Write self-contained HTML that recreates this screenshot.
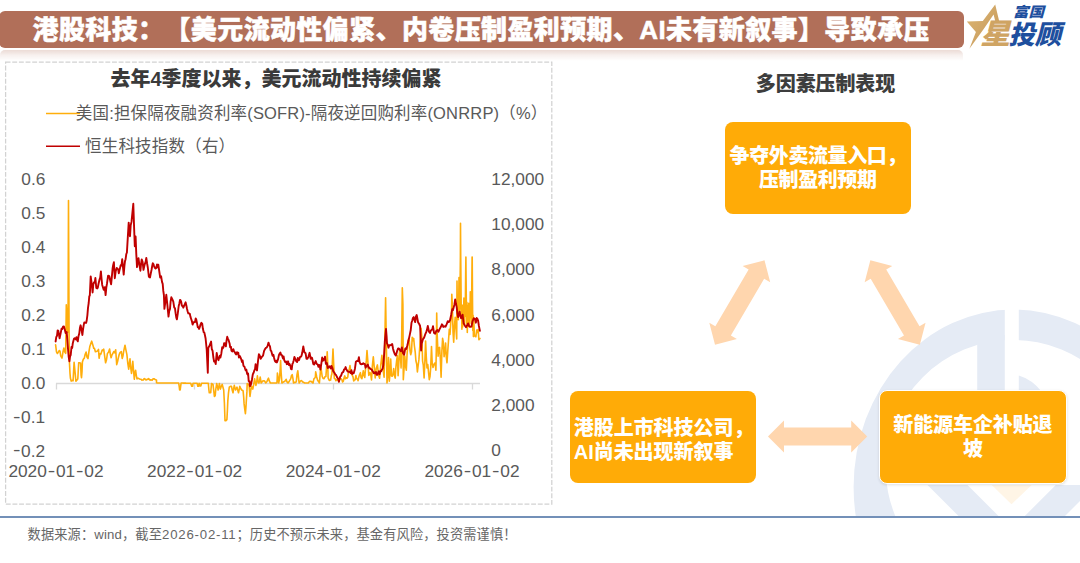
<!DOCTYPE html>
<html lang="zh-CN"><head><meta charset="utf-8"><title>港股科技</title>
<style>
html,body{margin:0;padding:0;background:#fff;}
body{width:1080px;height:563px;position:relative;overflow:hidden;font-family:"Liberation Sans","Noto Sans CJK SC",sans-serif;}
.abs{position:absolute;}
.hv{font-family:"Liberation Sans","Noto Sans CJK SC",sans-serif;font-weight:900;}
#bar{left:-1px;top:11px;width:965px;height:37px;background:#B16F59;border-radius:6px;}
#refl{left:0;top:49.5px;width:963px;height:11px;border-radius:5px 5px 0 0;background:linear-gradient(to bottom,rgba(177,111,89,.25),rgba(177,111,89,.11) 45%,rgba(177,111,89,0));filter:blur(.6px);}
#title{left:32.6px;top:9.5px;height:40px;line-height:40px;font-size:26px;letter-spacing:0.38px;color:#fff;-webkit-text-stroke:0.5px #fff;white-space:nowrap;text-spacing-trim:space-all;}
#ctitle{left:0;top:65.8px;width:552px;text-align:center;font-size:20px;line-height:26px;color:#3a3a3a;white-space:nowrap;letter-spacing:0}
.leg{font-size:16.5px;color:#595959;white-space:nowrap;line-height:22px;}
#rtitle{left:725.5px;top:71px;width:200px;text-align:center;font-size:20px;line-height:26px;color:#3d3d3d;letter-spacing:-.1px;white-space:nowrap}
.box{background:#FFAB07;border-radius:8px;color:#fff;font-size:20px;line-height:24px;text-spacing-trim:space-all;padding-top:5px;text-align:center;display:flex;align-items:center;justify-content:center;box-sizing:border-box;white-space:nowrap;letter-spacing:-.6px}
#fline{left:0;top:516px;width:1080px;height:2px;background:#7390B8;}
#foot{left:27.6px;top:526.3px;font-size:13.2px;line-height:18px;color:#666;white-space:nowrap;text-spacing-trim:space-all;letter-spacing:.15px}
#foot span{letter-spacing:.8px}
</style></head><body>
<svg class="abs" style="left:0;top:0" width="1080" height="563" viewBox="0 0 1080 563">
<g id="wm"><clipPath id="wmclip"><rect x="840" y="290" width="240" height="226.5"/></clipPath>
<g clip-path="url(#wmclip)" fill="#E5EBF5">
<path fill-rule="evenodd" d="M853.6,487 A160.1,177.4 0 1 1 1173.8,487 A160.1,177.4 0 1 1 853.6,487 Z M885.6,467.2 A127.2,127.2 0 1 0 1140,467.2 A127.2,127.2 0 1 0 885.6,467.2 Z"/>
<rect x="1004.8" y="300" width="14" height="45" fill="#fff"/>
<rect x="977.2" y="335" width="27.6" height="70"/>
<path d="M1018.8,375.6 Q1032,379.5 1042,392 L1042,400 L1018.8,400 Z"/>
<polygon points="927.5,485 967.5,485 1002.5,520 962.5,520"/>
<polygon points="1055.8,485 1096,485 1061,520 1020.8,520"/>
<polygon points="991.7,485 1031.7,485 1011.5,504.3" fill="#FFF5E6"/>
</g></g>
<rect x="5.6" y="62" width="546.2" height="442.2" fill="none" stroke="#D2D2D2" stroke-width="1.25" stroke-dasharray="4.9 1.75"/>
<g stroke="#D9D9D9" stroke-width="1.3" fill="none"><path d="M56,383.5 H480 M56.5,383.5 v6 M194.5,383.5 v6 M333.5,383.5 v6 M472.5,383.5 v6"/></g>
<polyline points="55.6,344.8 56.5,351.9 57.4,353.5 58.3,352.1 59.3,350.5 60.0,351.1 60.7,355.8 62.0,358.1 63.0,351.8 63.9,348.0 64.8,352.0 65.7,353.3 66.3,304.7 67.0,320.7 67.6,332.5 68.1,306.5 68.5,200.5 69.1,338.8 69.4,361.8 70.0,373.2 70.4,378.0 71.2,381.1 71.9,380.6 73.1,380.8 73.7,369.4 74.1,362.3 75.0,371.6 75.9,381.2 76.9,380.1 77.8,378.9 78.3,369.9 78.7,362.9 79.6,362.7 80.6,363.2 81.1,375.1 81.5,377.7 82.0,371.8 82.4,361.9 83.3,359.2 84.3,358.1 85.2,354.3 86.1,352.1 87.0,357.0 88.0,358.6 88.9,351.8 89.8,346.6 90.7,343.9 91.7,341.2 93.0,345.4 93.7,348.3 94.4,348.2 95.4,351.7 96.3,351.5 97.4,351.1 98.5,349.4 99.1,358.3 100.0,353.8 100.9,354.1 102.2,350.0 103.0,350.4 103.7,349.2 104.6,355.6 105.6,362.8 106.5,359.8 107.4,353.5 108.5,352.3 109.6,349.1 110.4,354.6 111.1,357.7 111.8,355.4 112.6,353.8 113.9,351.5 114.8,352.8 115.7,349.8 116.7,364.6 117.6,361.5 118.5,357.2 119.2,354.5 120.0,352.6 121.3,351.5 122.2,358.5 123.0,355.7 123.7,351.1 125.0,345.2 125.9,349.8 126.9,354.7 127.8,363.3 128.7,369.2 129.3,363.4 130.0,358.8 130.7,367.5 131.5,373.5 132.2,367.7 132.8,361.2 133.5,370.3 134.3,379.3 135.0,372.6 135.6,370.2 136.3,375.3 137.0,378.9 138.0,378.1 138.9,378.6 139.6,379.0 140.4,379.2 141.1,379.3 141.9,380.1 142.6,380.0 143.3,380.0 144.1,378.6 144.8,378.7 145.6,379.7 146.3,380.0 147.0,379.4 147.8,379.5 148.5,378.6 149.2,379.2 149.9,380.1 150.7,379.9 151.4,380.0 152.1,380.2 152.9,379.0 153.6,378.8 154.3,378.8 155.0,379.4 155.8,379.7 156.5,380.1 156.5,382.8 157.4,383.0 158.1,383.0 158.8,383.0 159.5,383.0 160.2,383.0 160.9,383.0 161.7,383.0 162.4,383.0 163.1,383.0 163.8,383.0 164.5,383.0 165.2,383.0 165.9,383.0 166.6,383.0 167.3,383.0 168.1,383.0 168.8,383.0 169.5,383.0 170.2,383.0 170.9,383.0 171.6,383.0 172.3,383.0 173.0,383.0 173.7,383.0 174.4,383.0 175.1,383.0 175.9,383.0 176.6,383.0 177.3,383.0 178.0,383.0 178.7,383.0 179.3,387.2 179.6,390.0 180.2,390.0 181.1,383.0 181.8,383.0 182.6,383.0 183.3,383.1 184.1,383.1 184.8,383.1 185.5,383.1 186.3,383.2 187.0,383.2 187.7,383.2 188.5,383.2 189.2,383.3 190.0,383.3 190.7,383.3 191.7,386.3 192.6,386.3 193.0,383.3 193.8,383.3 194.7,383.3 195.5,383.3 196.4,383.3 197.2,383.3 197.8,386.3 198.5,386.3 199.1,383.3 200.0,385.9 200.9,385.9 201.5,383.3 202.3,383.3 203.0,383.3 203.8,383.3 204.5,383.3 205.3,383.3 206.0,383.3 206.8,383.3 207.5,383.3 208.3,383.3 208.9,390.0 209.3,392.8 210.7,392.8 211.5,383.5 212.2,383.9 213.0,384.4 213.9,391.9 214.4,396.5 215.2,395.6 215.7,390.0 216.7,383.5 217.6,387.2 218.1,390.0 218.9,386.3 219.4,383.5 220.0,387.2 220.4,389.1 221.3,386.3 222.2,384.4 223.1,387.8 223.7,390.0 224.4,403.0 225.0,420.6 225.9,420.6 226.9,419.6 227.4,410.4 227.8,401.1 228.5,392.8 229.3,387.2 230.4,386.3 231.5,386.3 232.2,390.0 233.0,392.8 233.7,388.5 234.3,385.4 235.0,388.1 235.6,390.0 236.3,388.5 237.0,387.2 237.8,390.4 238.5,392.8 239.3,389.1 239.8,386.3 240.7,388.5 241.7,390.0 242.6,390.4 243.1,390.9 243.7,397.4 244.1,403.9 244.8,409.4 245.4,413.7 245.9,407.6 246.3,401.1 246.9,391.9 247.2,383.5 248.1,384.4 249.1,385.4 249.6,391.9 250.0,396.5 250.7,390.9 251.5,386.3 252.2,387.8 252.8,389.1 253.7,384.4 254.6,378.9 255.4,383.0 255.9,385.4 256.7,382.2 257.4,375.9 258.1,381.5 258.9,383.0 259.6,380.5 260.2,377.1 260.7,380.2 261.1,383.0 261.9,382.1 262.6,381.0 263.9,380.8 264.8,381.3 265.7,383.0 267.0,381.4 267.8,379.5 268.5,378.2 269.4,381.2 270.4,383.0 271.2,383.0 272.0,383.0 272.9,383.0 273.7,383.0 274.5,383.0 275.3,383.0 276.1,383.0 276.9,383.0 277.2,378.8 277.4,373.1 278.1,377.5 278.7,383.0 279.3,380.2 279.6,377.6 280.2,368.7 280.6,360.6 281.1,372.1 281.9,383.0 283.0,382.2 284.3,381.5 285.2,380.9 286.1,379.3 287.0,381.9 288.0,383.0 289.3,381.2 290.7,378.9 291.5,375.5 292.2,374.7 293.0,378.8 293.5,383.0 294.8,382.2 295.6,382.4 296.3,381.7 297.0,374.6 297.8,370.7 298.5,377.3 299.1,383.0 300.4,381.1 301.1,380.6 301.9,380.9 302.6,382.0 303.3,382.1 304.6,383.0 305.6,383.0 306.5,383.0 307.4,383.0 308.3,383.0 309.3,381.6 310.2,381.3 311.5,381.6 312.2,382.4 313.0,383.0 313.9,378.9 314.8,378.0 315.4,376.8 315.7,371.9 316.7,377.0 317.6,380.2 318.5,381.4 319.4,383.0 320.2,373.9 320.7,366.7 321.5,371.5 322.2,376.5 323.1,378.5 324.1,378.7 325.0,376.7 325.9,376.4 326.7,365.6 327.2,351.9 327.8,365.2 328.1,377.8 329.3,380.4 330.6,380.0 331.3,375.8 331.9,373.8 332.4,361.8 333.0,349.1 333.7,364.6 334.3,378.3 335.1,378.7 335.9,380.7 336.6,379.9 337.4,379.7 338.1,380.0 338.9,381.6 339.6,378.6 340.4,378.7 341.1,378.7 341.9,379.7 342.6,382.0 343.3,381.3 344.1,377.7 344.8,375.9 345.5,378.8 346.3,377.9 347.0,378.2 347.8,377.0 348.5,370.8 349.2,369.7 350.0,365.6 350.8,371.4 351.5,374.0 352.2,375.1 353.0,376.8 353.7,380.9 354.4,380.0 355.2,379.7 355.9,375.5 356.6,378.7 357.4,379.0 358.1,380.7 358.9,376.7 359.6,374.5 360.4,372.7 361.1,377.8 361.9,378.6 362.6,374.8 363.3,370.7 364.1,375.7 364.8,377.4 365.6,367.6 366.3,360.9 367.0,350.6 367.9,362.1 368.8,375.4 370.0,372.6 370.8,374.4 371.5,380.0 372.4,365.6 373.3,356.8 374.1,365.5 375.2,378.0 376.2,368.6 377.4,364.9 378.6,375.3 379.6,378.2 380.7,365.6 381.9,355.3 383.0,369.2 384.1,377.2 384.8,343.2 385.6,297.8 386.3,341.9 387.0,382.9 387.8,375.1 388.5,357.6 389.3,381.3 390.0,373.7 390.7,359.1 391.5,376.0 392.2,376.2 393.0,374.3 393.7,368.6 394.4,375.4 395.2,378.1 395.9,367.3 396.7,360.1 397.4,355.6 398.1,375.7 398.9,361.7 399.6,351.3 400.4,354.5 401.1,367.9 401.7,336.9 402.3,287.7 402.9,304.1 403.3,379.8 404.1,367.7 404.8,356.1 405.6,366.4 406.3,370.2 407.0,355.6 407.8,343.7 408.5,338.9 409.3,340.9 410.0,350.5 410.7,354.7 411.5,351.8 412.2,337.3 413.0,340.8 413.7,338.4 414.4,346.0 415.2,351.8 415.9,360.7 416.7,364.0 417.4,371.9 418.1,366.0 418.9,359.9 419.6,349.4 420.4,337.1 421.1,328.3 421.9,338.4 422.6,361.1 423.3,365.1 424.1,377.9 424.8,363.5 425.6,341.1 426.3,357.0 427.0,368.0 427.8,364.6 428.5,371.8 429.3,379.6 430.0,376.6 430.7,367.7 431.5,346.6 432.2,363.2 433.0,367.5 433.7,365.2 434.4,363.5 435.2,363.0 435.9,370.2 436.4,344.5 436.7,313.0 437.1,332.4 438.1,356.1 438.9,347.7 439.6,347.4 440.4,359.6 441.1,377.3 441.9,350.8 442.6,338.4 443.3,342.1 444.1,356.6 444.8,351.8 445.6,343.0 446.3,357.0 447.0,362.8 447.8,350.4 448.5,340.8 449.3,329.3 450.0,334.5 450.7,323.5 451.5,313.7 451.8,294.4 452.4,306.5 453.0,331.6 453.7,342.3 454.4,326.7 455.2,317.4 455.9,327.5 456.7,339.0 457.0,281.0 457.4,310.3 457.9,309.1 458.3,319.7 458.7,304.4 459.0,277.5 459.3,314.2 459.6,309.0 460.1,285.2 460.4,255.6 460.5,223.3 460.7,255.6 461.0,285.2 461.3,317.1 461.6,304.5 461.9,329.2 462.3,305.2 462.6,326.9 463.0,307.4 463.5,317.4 463.9,298.0 464.4,325.2 464.8,305.0 465.1,316.4 465.4,300.0 465.7,270.4 465.9,257.0 466.0,270.4 466.3,300.0 466.6,323.4 466.9,302.2 467.3,332.5 467.8,306.3 468.2,326.1 468.7,303.4 469.1,326.6 469.6,309.6 470.0,317.6 470.3,291.7 470.6,316.9 470.9,304.0 471.2,323.6 471.5,315.4 471.8,285.2 472.1,257.0 472.2,257.0 472.5,300.0 472.8,330.4 473.1,315.3 473.4,336.6 473.7,317.6 474.4,335.9 475.2,336.4 475.9,336.7 476.7,330.0 477.4,332.4 478.1,329.5 478.9,339.8 479.9,338.5" fill="none" stroke="#FFAE0C" stroke-width="1.6" stroke-linejoin="round" stroke-linecap="round"/>
<polyline points="55.6,341.5 56.3,336.9 57.0,335.8 57.6,330.5 58.3,330.6 59.0,334.8 59.6,338.3 60.7,333.1 61.5,328.8 62.2,329.1 63.0,326.7 63.9,326.4 64.8,329.5 65.6,333.0 66.7,332.1 67.3,339.6 68.0,348.7 68.7,356.8 69.4,361.3 70.1,356.2 70.7,355.1 71.5,347.0 72.2,348.0 72.8,343.2 73.5,340.6 74.1,338.6 75.0,338.2 75.9,339.4 76.5,337.1 77.2,340.1 77.8,341.3 78.5,336.2 79.3,333.3 79.9,328.1 80.6,325.3 81.5,329.3 82.4,335.0 83.0,329.7 83.7,325.1 84.3,322.4 85.2,322.7 86.1,322.9 86.7,320.5 87.4,315.1 88.0,307.8 88.7,303.0 89.3,296.2 89.8,295.7 90.7,276.4 91.9,285.2 92.6,292.5 93.3,284.3 94.1,282.2 94.8,282.5 95.4,278.0 96.3,288.0 97.2,288.5 97.8,287.6 98.5,284.0 99.6,279.3 100.2,277.6 100.9,271.4 101.6,279.4 102.2,284.9 103.0,287.6 103.7,289.8 104.8,287.2 105.6,295.1 106.3,287.6 107.0,283.5 108.1,275.7 109.3,276.2 110.4,281.5 111.1,284.3 111.8,277.3 112.6,268.5 113.2,264.9 113.9,262.2 114.8,278.2 115.7,271.3 116.7,267.9 117.4,268.6 118.1,269.2 118.8,273.3 119.4,270.5 120.1,267.8 120.7,265.3 121.5,265.5 122.2,259.1 123.0,267.5 123.7,274.6 124.4,266.1 125.0,261.1 125.6,259.2 126.3,254.0 126.9,252.6 127.8,237.4 128.7,222.6 129.3,231.7 130.0,236.3 130.7,225.3 131.5,221.9 132.6,210.8 133.3,203.8 134.1,227.5 134.8,246.2 135.6,236.5 136.3,254.4 137.0,267.1 137.8,260.7 138.5,258.1 139.4,265.1 140.4,270.7 141.1,263.7 141.7,259.4 142.6,261.8 143.5,269.9 144.2,266.5 144.8,264.1 145.6,261.9 146.3,257.9 147.1,263.5 147.8,267.5 148.9,276.8 150.0,277.5 150.8,273.4 151.5,270.0 152.2,266.0 152.8,263.3 153.4,264.1 154.1,266.1 154.8,267.8 155.6,268.5 156.3,268.0 157.0,264.4 157.7,267.4 158.3,264.7 159.3,271.5 160.2,277.6 161.1,276.2 162.0,281.9 162.7,283.9 163.3,290.9 163.9,295.0 164.4,308.9 165.4,301.6 166.3,294.8 167.4,305.1 168.5,316.6 169.2,311.1 170.0,308.9 170.6,301.7 171.3,297.3 171.9,298.4 172.6,299.9 173.3,301.7 174.2,307.4 175.0,308.4 175.6,313.2 176.3,317.7 176.9,319.3 177.8,313.3 178.7,306.0 179.3,303.7 180.0,299.9 180.6,300.3 181.2,301.8 181.9,305.9 182.6,305.9 183.3,307.7 184.4,305.1 185.6,302.3 186.3,305.3 187.0,308.8 187.6,311.3 188.3,313.4 188.9,313.2 189.8,313.8 190.4,316.6 191.1,318.7 191.8,320.9 192.6,324.6 193.5,322.1 194.4,322.1 195.0,322.2 195.7,318.4 196.3,319.7 197.1,323.6 197.8,327.2 198.4,326.9 199.1,328.9 199.9,326.6 200.7,324.1 201.4,322.8 202.2,323.6 202.9,328.8 203.7,332.2 204.3,332.5 205.0,335.5 205.6,338.5 206.7,349.5 207.8,372.8 208.3,348.2 208.9,346.7 209.6,345.6 210.3,343.7 211.1,341.6 211.8,349.0 212.6,350.8 213.3,357.0 214.1,361.6 214.9,361.3 215.7,364.1 216.7,353.0 217.6,358.4 218.5,360.2 219.1,357.8 219.8,355.8 220.4,357.5 221.3,353.7 222.2,347.1 222.8,348.4 223.5,347.1 224.1,343.2 225.0,343.5 225.9,346.4 226.5,340.8 227.2,336.8 227.8,338.3 228.7,340.4 229.6,343.4 230.2,347.4 230.9,346.7 231.5,350.8 232.4,351.5 233.3,349.2 233.9,350.6 234.6,352.1 235.2,353.1 236.1,354.4 237.0,352.2 237.6,353.7 238.3,352.8 238.9,357.5 239.8,356.0 240.7,357.9 241.3,359.5 242.0,362.1 242.6,360.5 243.5,365.9 244.4,366.5 245.0,368.5 245.7,370.3 246.3,369.5 247.2,374.0 248.1,375.1 248.1,373.5 248.7,381.1 249.4,381.2 250.0,386.2 250.9,384.5 251.9,380.0 252.8,374.4 253.7,372.5 254.3,370.5 255.0,369.3 255.6,364.2 256.3,369.0 257.0,370.4 258.0,361.2 258.9,354.2 259.8,355.8 260.7,358.8 261.9,356.8 263.0,355.7 264.1,350.9 265.2,348.8 265.9,347.9 266.7,347.5 267.6,345.9 268.5,342.6 269.2,344.8 270.0,346.4 270.6,350.3 271.3,351.1 272.0,353.7 272.6,355.8 273.4,354.7 274.1,357.9 274.9,361.0 275.6,361.9 276.2,360.7 276.9,362.4 278.1,359.1 278.9,355.2 279.6,353.7 280.4,352.6 281.1,354.9 281.9,355.1 283.0,358.4 283.6,356.5 284.3,360.4 285.2,362.0 286.1,361.5 286.8,364.2 287.4,364.0 288.1,361.3 288.9,365.1 289.6,364.1 290.4,365.8 291.0,369.0 291.7,369.3 292.4,364.0 293.0,362.8 293.7,360.4 294.4,356.9 295.4,359.1 296.3,361.4 297.1,362.1 297.8,357.9 298.5,360.4 299.1,360.1 300.0,356.9 300.9,356.9 301.5,355.8 302.2,353.1 303.3,346.4 304.4,352.3 305.6,353.3 306.5,358.8 307.4,358.7 308.5,356.6 309.6,352.8 310.7,358.8 311.4,357.5 312.0,357.8 312.6,360.5 313.3,364.0 314.1,364.6 314.8,363.0 315.7,361.1 316.7,364.0 317.6,364.4 318.5,366.8 319.1,365.0 319.8,365.8 320.4,369.5 321.3,363.8 322.2,357.5 322.9,360.9 323.7,359.1 324.4,359.8 325.0,356.7 325.9,363.8 326.9,363.1 327.8,368.0 328.7,367.6 329.4,366.3 330.0,366.5 330.8,368.5 331.5,365.9 332.4,368.0 333.3,371.6 334.1,372.2 334.8,373.5 335.4,374.6 336.1,375.0 336.7,376.5 337.4,377.9 338.2,378.9 338.9,381.8 340.1,376.9 341.1,375.6 342.1,372.7 343.3,371.9 344.1,369.4 344.8,369.3 345.6,367.1 346.3,369.1 347.5,371.3 348.5,371.9 349.6,371.8 350.7,373.0 351.4,370.1 352.2,374.0 352.9,372.7 353.7,373.3 354.9,368.9 355.9,361.7 356.6,361.1 357.4,360.8 358.1,361.0 358.9,357.1 359.6,362.2 360.4,363.9 361.1,364.3 361.9,364.0 362.6,364.1 363.3,363.2 364.1,363.9 364.8,364.0 365.6,367.7 366.3,366.3 367.1,365.4 367.8,364.6 368.6,367.7 369.3,367.5 370.3,368.9 371.5,369.4 372.2,370.4 373.0,371.7 373.7,373.2 374.4,372.6 375.1,373.3 375.9,371.9 376.6,374.8 377.4,374.7 378.1,372.7 378.9,371.3 379.6,374.3 380.4,371.3 381.1,371.4 381.9,369.7 382.7,368.4 383.3,365.1 384.1,354.8 384.8,341.7 386.0,328.9 386.6,336.3 387.0,343.4 387.8,344.9 388.5,347.7 389.3,345.1 390.0,345.3 391.0,345.0 392.2,344.0 393.0,348.5 393.7,351.2 394.9,354.4 395.9,355.5 397.0,351.4 398.1,348.4 398.9,348.4 399.6,349.6 400.8,351.3 401.9,347.4 402.9,352.9 404.1,354.7 405.3,348.4 406.3,348.9 407.3,345.4 408.5,340.6 409.7,335.1 410.7,330.3 411.5,322.8 412.2,320.8 413.0,317.8 413.7,317.1 414.4,319.8 415.2,322.1 415.9,316.7 416.7,315.0 417.4,318.6 418.1,322.4 419.2,324.0 420.1,326.0 420.7,338.4 421.1,350.5 421.6,343.5 422.1,342.2 423.0,339.1 424.1,337.6 425.1,334.7 426.3,331.9 427.0,329.6 427.8,325.9 429.0,331.7 430.0,333.0 430.8,330.8 431.5,329.8 432.2,329.6 433.0,326.2 434.0,332.9 435.2,333.7 436.4,330.7 437.4,330.1 438.4,331.8 439.6,329.1 440.8,327.0 441.9,324.3 442.6,325.2 443.3,326.9 444.4,326.3 445.6,326.7 446.7,324.2 447.8,321.2 448.8,322.2 450.0,320.3 451.2,314.7 452.2,309.3 453.0,310.0 453.7,307.2 454.4,304.7 455.2,299.4 455.9,303.3 456.7,307.1 457.4,313.4 458.1,317.1 458.9,314.9 459.6,311.7 460.4,315.7 461.1,318.3 461.9,316.9 462.6,314.6 463.6,323.2 464.8,325.4 466.0,327.3 467.0,325.6 468.1,323.4 469.3,326.5 470.4,326.9 471.5,326.5 472.5,321.3 473.7,318.3 474.9,318.8 475.9,322.7 476.7,318.0 477.4,318.9 478.1,320.6 478.9,326.0 479.9,330.9" fill="none" stroke="#C00000" stroke-width="1.9" stroke-linejoin="round" stroke-linecap="round"/>
<path d="M46,113.5 H80" stroke="#FFAE0C" stroke-width="1.6"/><path d="M46,146.3 H80" stroke="#C00000" stroke-width="1.6"/>
<g font-family="Liberation Sans, sans-serif" font-size="17.3" fill="#595959">
<text x="45.4" y="185.3" text-anchor="end">0.6</text>
<text x="45.4" y="219.2" text-anchor="end">0.5</text>
<text x="45.4" y="253.1" text-anchor="end">0.4</text>
<text x="45.4" y="287.0" text-anchor="end">0.3</text>
<text x="45.4" y="320.9" text-anchor="end">0.2</text>
<text x="45.4" y="354.8" text-anchor="end">0.1</text>
<text x="45.4" y="388.7" text-anchor="end">0.0</text>
<text x="13" y="422.6"><tspan dy="-1.1" textLength="7.5" lengthAdjust="spacingAndGlyphs">-</tspan><tspan dx="0.6" dy="1.1">0.1</tspan></text>
<text x="13" y="456.5"><tspan dy="-1.1" textLength="7.5" lengthAdjust="spacingAndGlyphs">-</tspan><tspan dx="0.6" dy="1.1">0.2</tspan></text>
<text x="491.3" y="184.9">12,000</text>
<text x="491.3" y="230.1">10,000</text>
<text x="491.3" y="275.3">8,000</text>
<text x="491.3" y="320.5">6,000</text>
<text x="491.3" y="365.7">4,000</text>
<text x="491.3" y="410.9">2,000</text>
<text x="491.3" y="456.1">0</text>
<text x="8.399999999999999" y="477.2">2020<tspan dx="0.8" dy="-1.1" textLength="7.5" lengthAdjust="spacingAndGlyphs">-</tspan><tspan dx="0.8" dy="1.1">01</tspan><tspan dx="0.8" dy="-1.1" textLength="7.5" lengthAdjust="spacingAndGlyphs">-</tspan><tspan dx="0.8" dy="1.1">02</tspan></text>
<text x="147.1" y="477.2">2022<tspan dx="0.8" dy="-1.1" textLength="7.5" lengthAdjust="spacingAndGlyphs">-</tspan><tspan dx="0.8" dy="1.1">01</tspan><tspan dx="0.8" dy="-1.1" textLength="7.5" lengthAdjust="spacingAndGlyphs">-</tspan><tspan dx="0.8" dy="1.1">02</tspan></text>
<text x="285.7" y="477.2">2024<tspan dx="0.8" dy="-1.1" textLength="7.5" lengthAdjust="spacingAndGlyphs">-</tspan><tspan dx="0.8" dy="1.1">01</tspan><tspan dx="0.8" dy="-1.1" textLength="7.5" lengthAdjust="spacingAndGlyphs">-</tspan><tspan dx="0.8" dy="1.1">02</tspan></text>
<text x="424.4" y="477.2">2026<tspan dx="0.8" dy="-1.1" textLength="7.5" lengthAdjust="spacingAndGlyphs">-</tspan><tspan dx="0.8" dy="1.1">01</tspan><tspan dx="0.8" dy="-1.1" textLength="7.5" lengthAdjust="spacingAndGlyphs">-</tspan><tspan dx="0.8" dy="1.1">02</tspan></text>
</g>
<polygon points="-48.9,0.0 -32.9,-16.0 -32.9,-9.0 32.9,-9.0 32.9,-16.0 48.9,0.0 32.9,16.0 32.9,9.0 -32.9,9.0 -32.9,16.0" transform="translate(739.75 302.5) rotate(-59.6)" fill="#FFD6AE"/>
<polygon points="-48.9,0.0 -32.9,-16.0 -32.9,-9.0 32.9,-9.0 32.9,-16.0 48.9,0.0 32.9,16.0 32.9,9.0 -32.9,9.0 -32.9,16.0" transform="translate(895.1 302.5) rotate(59.6)" fill="#FFD6AE"/>
<polygon points="-49.6,0.0 -33.6,-16.0 -33.6,-9.0 33.6,-9.0 33.6,-16.0 49.6,0.0 33.6,16.0 33.6,9.0 -33.6,9.0 -33.6,16.0" transform="translate(817.6 436.6) rotate(0)" fill="#FFD6AE"/>
</svg>
<div id="bar" class="abs"></div><div id="refl" class="abs"></div>
<div id="title" class="abs hv">港股科技：【美元流动性偏紧、内卷压制盈利预期、AI未有新叙事】导致承压</div>
<svg class="abs" style="left:960px;top:0" width="120" height="56" viewBox="960 0 120 56">
<defs><linearGradient id="gold" x1="0" y1="0" x2="1" y2="1"><stop offset="0" stop-color="#DDB673"/><stop offset="1" stop-color="#C4975A"/></linearGradient></defs>
<polygon points="995.2,4.4 999.2,21.2 995.4,21.8 993.6,14.6 983.7,29.1 969.4,48.7 975.9,31.9 966.8,21.6 982.8,21.0" fill="url(#gold)"/>
<text x="980.2" y="44.2" font-family="Liberation Sans, Noto Sans CJK SC, sans-serif" font-weight="900" font-style="italic" font-size="28.5" fill="#CFA463" textLength="30" lengthAdjust="spacingAndGlyphs">星</text>
<text x="1013" y="16.6" font-family="Liberation Sans, Noto Sans CJK SC, sans-serif" font-weight="900" font-style="italic" font-size="14" fill="#1E4F9E" textLength="31" lengthAdjust="spacingAndGlyphs">富国</text>
<text x="1008.5" y="43.6" font-family="Liberation Sans, Noto Sans CJK SC, sans-serif" font-weight="900" font-style="italic" font-size="26" fill="#1E4F9E" textLength="52.5" lengthAdjust="spacingAndGlyphs">投顾</text>
</svg>
<div id="ctitle" class="abs hv">去年4季度以来，美元流动性持续偏紧</div>
<div class="abs leg" style="left:75.8px;top:102px;letter-spacing:.17px">美国:担保隔夜融资利率(SOFR)-隔夜逆回购利率(ONRRP)（%）</div>
<div class="abs leg" style="left:85px;top:135px;letter-spacing:.2px">恒生科技指数（右）</div>
<div id="rtitle" class="abs hv">多因素压制表现</div>
<div class="abs box hv" style="left:724.9px;top:122.2px;width:185.8px;height:92px;padding-top:0.5px;letter-spacing:-.4px"><div>争夺外卖流量入口，<br>压制盈利预期</div></div>
<div class="abs box hv" style="left:569.6px;top:390.9px;width:186px;height:91.7px;justify-content:flex-start;text-align:left;padding-left:4.2px;padding-top:6.5px;letter-spacing:-.05px"><div>港股上市科技公司，<br>AI尚未出现新叙事</div></div>
<div class="abs box hv" style="left:879px;top:389.9px;width:187.8px;height:94.2px;border:1.5px solid #fff;box-shadow:0 1px 3px rgba(0,0,0,.12);padding-top:0;letter-spacing:-.1px"><div>新能源车企补贴退<br>坡</div></div>
<div id="fline" class="abs"></div>
<div id="foot" class="abs">数据来源：wind，截至<span>2026-02-11</span>；历史不预示未来，基金有风险，投资需谨慎！</div>
</body></html>
